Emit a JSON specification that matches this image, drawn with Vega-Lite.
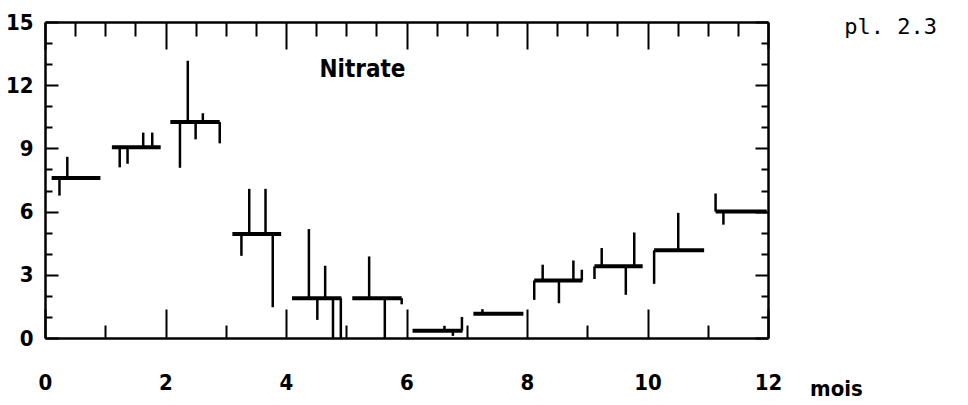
{
  "$schema": "https://vega.github.io/schema/vega-lite/v6.json",
  "width": 723,
  "height": 316,
  "autosize": {"type": "none"},
  "padding": {"left": 45, "top": 22, "right": 200, "bottom": 67},
  "background": "white",
  "title": {
    "text": "pl. 2.3",
    "anchor": "end",
    "frame": "group",
    "font": "DejaVu Sans Mono",
    "fontSize": 22,
    "fontWeight": "normal",
    "color": "black",
    "baseline": "alphabetic",
    "offset": 0,
    "dx": 169,
    "dy": 45
  },
  "datasets": {
    "means": [
      {"month": 1, "start": 0.11, "end": 0.92, "mean": 7.6},
      {"month": 2, "start": 1.11, "end": 1.92, "mean": 9.05},
      {"month": 3, "start": 2.08, "end": 2.9, "mean": 10.25},
      {"month": 4, "start": 3.11, "end": 3.92, "mean": 4.94},
      {"month": 5, "start": 4.1, "end": 4.92, "mean": 1.89},
      {"month": 6, "start": 5.1, "end": 5.92, "mean": 1.89},
      {"month": 7, "start": 6.1, "end": 6.93, "mean": 0.35},
      {"month": 8, "start": 7.11, "end": 7.94, "mean": 1.15},
      {"month": 9, "start": 8.12, "end": 8.92, "mean": 2.73},
      {"month": 10, "start": 9.12, "end": 9.92, "mean": 3.4},
      {"month": 11, "start": 10.11, "end": 10.94, "mean": 4.16},
      {"month": 12, "start": 11.13, "end": 11.98, "mean": 6.0}
    ],
    "obs": [
      {"t": 0.24, "mean": 7.6, "value": 6.76},
      {"t": 0.37, "mean": 7.6, "value": 8.6},
      {"t": 1.24, "mean": 9.05, "value": 8.1},
      {"t": 1.37, "mean": 9.05, "value": 8.27},
      {"t": 1.63, "mean": 9.05, "value": 9.75},
      {"t": 1.78, "mean": 9.05, "value": 9.75},
      {"t": 2.24, "mean": 10.25, "value": 8.08},
      {"t": 2.37, "mean": 10.25, "value": 13.16},
      {"t": 2.5, "mean": 10.25, "value": 9.43},
      {"t": 2.62, "mean": 10.25, "value": 10.67},
      {"t": 2.9, "mean": 10.25, "value": 9.24},
      {"t": 3.26, "mean": 4.94, "value": 3.9},
      {"t": 3.39, "mean": 4.94, "value": 7.08},
      {"t": 3.66, "mean": 4.94, "value": 7.08},
      {"t": 3.78, "mean": 4.94, "value": 1.46},
      {"t": 4.38, "mean": 1.89, "value": 5.17},
      {"t": 4.52, "mean": 1.89, "value": 0.86},
      {"t": 4.65, "mean": 1.89, "value": 3.43},
      {"t": 4.78, "mean": 1.89, "value": 0},
      {"t": 4.91, "mean": 1.89, "value": 0},
      {"t": 5.38, "mean": 1.89, "value": 3.87},
      {"t": 5.64, "mean": 1.89, "value": 0},
      {"t": 5.92, "mean": 1.89, "value": 1.6},
      {"t": 6.63, "mean": 0.35, "value": 0.58},
      {"t": 6.77, "mean": 0.35, "value": 0.1},
      {"t": 6.92, "mean": 0.35, "value": 1.0},
      {"t": 7.26, "mean": 1.15, "value": 1.37},
      {"t": 8.12, "mean": 2.73, "value": 1.81},
      {"t": 8.26, "mean": 2.73, "value": 3.48},
      {"t": 8.53, "mean": 2.73, "value": 1.65},
      {"t": 8.77, "mean": 2.73, "value": 3.68},
      {"t": 8.91, "mean": 2.73, "value": 3.24},
      {"t": 9.12, "mean": 3.4, "value": 2.8},
      {"t": 9.24, "mean": 3.4, "value": 4.27},
      {"t": 9.64, "mean": 3.4, "value": 2.05},
      {"t": 9.78, "mean": 3.4, "value": 5.01},
      {"t": 10.11, "mean": 4.16, "value": 2.57},
      {"t": 10.51, "mean": 4.16, "value": 5.94},
      {"t": 11.13, "mean": 6.0, "value": 6.86},
      {"t": 11.26, "mean": 6.0, "value": 5.38}
    ]
  },
  "layer": [
    {
      "data": {"name": "means"},
      "mark": {"type": "rule", "color": "black", "strokeWidth": 4},
      "encoding": {
        "x": {
          "field": "start", "type": "quantitative",
          "scale": {"domain": [0, 12], "nice": false, "zero": false},
          "axis": {
            "orient": "bottom",
            "values": [0, 0.5, 1, 1.5, 2, 2.5, 3, 3.5, 4, 4.5, 5, 5.5, 6, 6.5, 7, 7.5, 8, 8.5, 9, 9.5, 10, 10.5, 11, 11.5, 12],
            "format": "d",
            "tickSize": {"condition": {"test": "datum.value % 2 === 0", "value": -29}, "value": -13},
            "labelExpr": "datum.value % 2 === 0 ? datum.label : ''",
            "labelPadding": 63,
            "labelBaseline": "top",
            "title": "mois",
            "titleX": 791,
            "titleY": 57,
            "titleAlign": "center",
            "titleBaseline": "alphabetic",
            "titleFont": "DejaVu Sans Condensed",
            "titleFontSize": 22,
            "titleFontWeight": "bold",
            "titleColor": "black"
          }
        },
        "x2": {"field": "end"},
        "y": {
          "field": "mean", "type": "quantitative",
          "scale": {"domain": [0, 15], "nice": false, "zero": false},
          "axis": {
            "orient": "left",
            "values": [0, 1, 2, 3, 4, 5, 6, 7, 8, 9, 10, 11, 12, 13, 14, 15],
            "format": "d",
            "tickSize": {"condition": {"test": "datum.value % 3 === 0", "value": -13}, "value": -7},
            "labelExpr": "datum.value % 3 === 0 ? datum.label : ''",
            "labelPadding": 25,
            "title": null
          }
        }
      }
    },
    {
      "data": {"name": "obs"},
      "mark": {"type": "rule", "color": "black", "strokeWidth": 2.5},
      "encoding": {
        "x": {
          "field": "t", "type": "quantitative",
          "axis": {
            "orient": "top",
            "values": [0, 0.5, 1, 1.5, 2, 2.5, 3, 3.5, 4, 4.5, 5, 5.5, 6, 6.5, 7, 7.5, 8, 8.5, 9, 9.5, 10, 10.5, 11, 11.5, 12],
            "tickSize": {"condition": {"test": "datum.value % 2 === 0", "value": -27}, "value": -14},
            "labels": false,
            "title": null
          }
        },
        "y": {
          "field": "mean", "type": "quantitative",
          "axis": {
            "orient": "right",
            "values": [0, 1, 2, 3, 4, 5, 6, 7, 8, 9, 10, 11, 12, 13, 14, 15],
            "tickSize": {"condition": {"test": "datum.value % 3 === 0", "value": -13}, "value": -7},
            "labels": false,
            "title": null
          }
        },
        "y2": {"field": "value"}
      }
    },
    {
      "data": {"values": [{}]},
      "mark": {"type": "text", "text": "Nitrate", "font": "DejaVu Sans Condensed", "fontSize": 24, "fontWeight": "bold", "color": "black", "align": "center", "baseline": "middle"},
      "encoding": {
        "x": {"datum": 5.27, "type": "quantitative", "axis": null},
        "y": {"datum": 12.7, "type": "quantitative", "axis": null}
      }
    }
  ],
  "resolve": {"axis": {"x": "independent", "y": "independent"}},
  "config": {
    "view": {"stroke": null},
    "axis": {
      "grid": false,
      "domainColor": "black",
      "domainWidth": 2.5,
      "tickColor": "black",
      "tickWidth": 2,
      "labelColor": "black",
      "labelFont": "DejaVu Sans Condensed",
      "labelFontSize": 22,
      "labelFontWeight": "bold",
      "labelFlush": false,
      "labelOverlap": false,
      "labelBound": false
    }
  }
}
